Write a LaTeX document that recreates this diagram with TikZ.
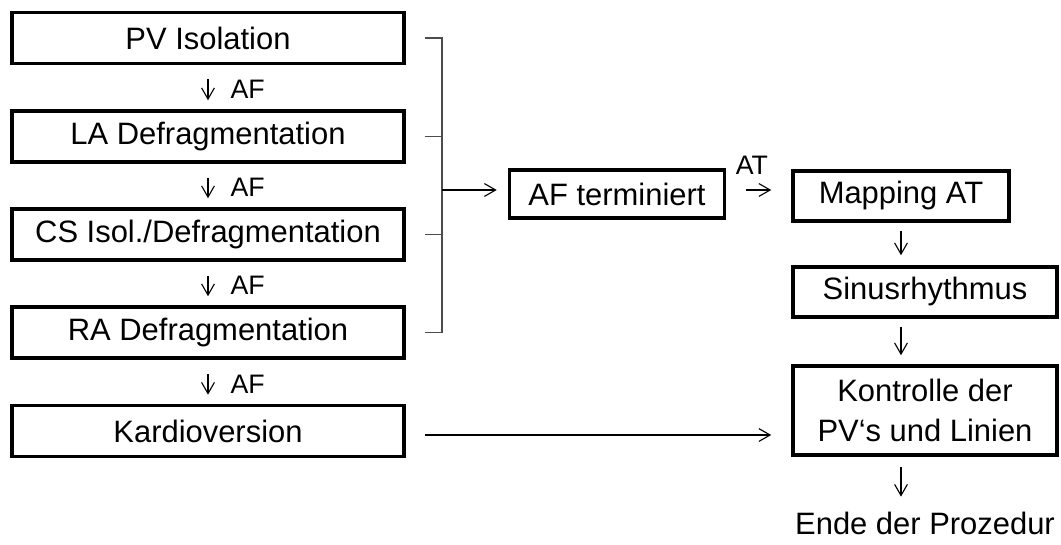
\documentclass[tikz,border=0pt]{standalone}
\usepackage{fontspec}
\setmainfont{Liberation Sans}
\usetikzlibrary{arrows.meta}

\tikzset{
    stepbox/.style={draw, line width=2.5pt, minimum height=1.275cm, inner sep=0pt,
                    font=\fontsize{22}{28.5}\selectfont, align=center},
    arr/.style={line width=0.8pt, -{Straight Barb[length=0.28cm, width=0.32cm]}},
    lbl/.style={inner sep=0pt, font=\fontsize{19}{22}\selectfont},
    brace/.style={line width=0.9pt, black!70},
}

\begin{document}
\begin{tikzpicture}[x=0.025cm, y=-0.025cm]
    \useasboundingbox (0,0) rectangle (1061,545);
    % left column
    \node[stepbox, minimum width=9.8cm] (pv)     at (208,38)    {PV Isolation};
    \node[stepbox, minimum width=9.8cm] (la)     at (208,136.5) {LA Defragmentation};
    \node[stepbox, minimum width=9.8cm] (cs)     at (208,234.5) {CS Isol./Defragmentation};
    \node[stepbox, minimum width=9.8cm] (ra)     at (208,332.5) {RA Defragmentation};
    \node[stepbox, minimum width=9.8cm] (kardio) at (208,431)   {Kardioversion};
    % right part
    \node[stepbox, minimum width=5.375cm, minimum height=1.2cm]  (afterm)    at (617,194)   {AF terminiert};
    \node[stepbox, minimum width=5.4cm, minimum height=1.25cm]   (mapping)   at (901,196)   {Mapping AT};
    \node[stepbox, minimum width=6.6cm, minimum height=1.25cm]   (sinus)     at (925,292)   {Sinusrhythmus};
    \node[stepbox, minimum width=6.6cm, minimum height=2.225cm]  (kontrolle) at (925,410.5) {Kontrolle der\\PV‘s und Linien};
    \node[font=\fontsize{22}{28.5}\selectfont] (ende) at (925,523) {Ende der Prozedur};
    \coordinate (join) at (442,190);

    \foreach \a/\b in {pv/la, la/cs, cs/ra, ra/kardio}
    {
        \draw[arr, shorten <=0.35cm, shorten >=0.225cm] (\a) -- (\b)
            node[lbl, pos=0.55, right=0.55cm] {AF};
    }

    % bracket
    \draw[brace, shorten <=0.475cm, shorten >=0.475cm]
        (pv.east) -- (pv.east -| join) -- (ra.east -| join) -- (ra.east);
    \foreach \n in {la, cs}
        \draw[brace, shorten <=0.475cm] (\n.east) -- (\n.east -| join);
    \draw[arr, shorten >=0.275cm] (join) -- (join -| afterm.west);
    \draw[arr, shorten <=0.5cm, shorten >=0.5cm] (afterm.east |- join) -- (join -| mapping.west)
        node[lbl, midway, above=0.375cm, xshift=-0.17cm] {AT};

    \draw[arr, shorten <=0.2cm, shorten >=0.25cm]   (mapping.south) -- (mapping.south |- sinus.north);
    \draw[arr, shorten <=0.2cm, shorten >=0.225cm]  (mapping.south |- sinus.south) -- (mapping.south |- kontrolle.north);
    \draw[arr, shorten <=0.25cm, shorten >=0.25cm]  (mapping.south |- kontrolle.south) -- (mapping.south |- ende.north);
    \draw[arr, shorten <=0.475cm, shorten >=0.5cm]  ([yshift=-0.1cm]kardio.east) -- ([yshift=-0.1cm]kardio.east -| kontrolle.west);
\end{tikzpicture}
\end{document}
